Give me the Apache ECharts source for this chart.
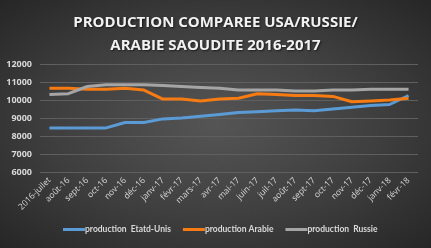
<!DOCTYPE html>
<html><head><meta charset="utf-8">
<script src="https://cdn.jsdelivr.net/npm/echarts@6/dist/echarts.min.js"></script>
<style>
html,body{margin:0;padding:0;}
#c{width:431px;height:248px;background:radial-gradient(ellipse at 50% 50%, #555555 0%, #3e3e3e 55%, #262626 100%);}
</style></head>
<body><div id="c"></div>
<script>
const categories = ['2016-juilet','août-16','sept-16','oct-16','nov-16','déc-16','janv-17','févr-17','mars-17','avr-17','mai-17','juin-17','juil-17','août-17','sept-17','oct-17','nov-17','déc-17','janv-18','févr-18'];
const usa = [8450,8450,8450,8450,8750,8750,8950,9000,9100,9200,9300,9350,9400,9450,9400,9500,9600,9700,9750,10250];
const arabie = [10650,10650,10600,10600,10650,10550,10050,10050,9950,10050,10100,10350,10300,10250,10250,10200,9900,9950,10000,10100];
const russie = [10300,10350,10750,10850,10850,10850,10800,10750,10700,10650,10550,10550,10550,10500,10500,10550,10550,10600,10600,10600];
const yTicks = {min:6000, max:12000, interval:1000};

const chart = echarts.init(document.getElementById('c'));
const txt = '#d9d9d9';
chart.setOption({
  backgroundColor:'transparent',
  title:{text:'PRODUCTION COMPAREE USA/RUSSIE/\nARABIE SAOUDITE 2016-2017',left:'center',top:6,
    textStyle:{color:'#f2f2f2',fontFamily:'Open Sans',fontWeight:'bold',fontSize:15,lineHeight:23,
      textShadowColor:'rgba(0,0,0,0.6)',textShadowBlur:2,textShadowOffsetX:1,textShadowOffsetY:1}},
  grid:{left:40,right:13,top:64,bottom:76},
  legend:{bottom:9,left:58,itemWidth:22,itemHeight:3,itemGap:12,icon:'rect',
    textStyle:{color:txt,fontFamily:'Lato',fontSize:8.5,fontWeight:'bold',padding:[0,0,0,-5]},
    data:['production  Etatd-Unis','production Arabie','production  Russie']},
  xAxis:{type:'category',data:categories,boundaryGap:true,
    axisLine:{show:false},axisTick:{show:false},
    axisLabel:{color:txt,fontSize:8.5,fontFamily:'Open Sans',rotate:45,interval:0,margin:7}},
  yAxis:{type:'value',min:yTicks.min,max:yTicks.max,interval:yTicks.interval,
    axisLine:{show:false},axisTick:{show:false},
    axisLabel:{color:txt,fontSize:9,fontFamily:'Open Sans',fontWeight:'bold',margin:8,formatter:function(v){return String(v);}},
    splitLine:{lineStyle:{color:'#5f5f5f',width:1}}},
  series:[
    {name:'production  Etatd-Unis',type:'line',data:usa,symbol:'none',lineStyle:{width:3,color:'#5B9BD5'},itemStyle:{color:'#5B9BD5'}},
    {name:'production Arabie',type:'line',data:arabie,symbol:'none',lineStyle:{width:3,color:'#F57B12'},itemStyle:{color:'#F57B12'}},
    {name:'production  Russie',type:'line',data:russie,symbol:'none',lineStyle:{width:3,color:'#A5A5A5'},itemStyle:{color:'#A5A5A5'}}
  ]
});
</script></body></html>
